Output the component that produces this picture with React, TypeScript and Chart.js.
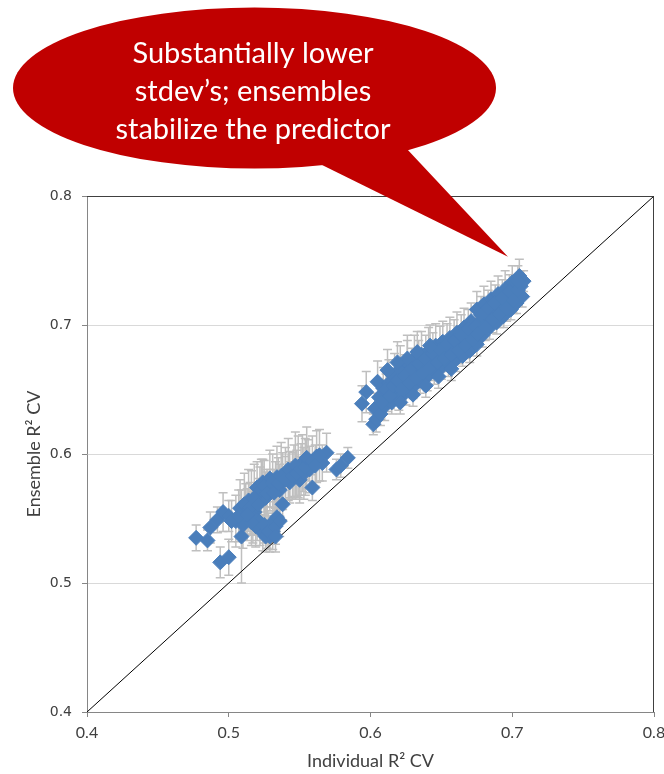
import { useEffect, useRef } from "react";
import { Chart, registerables } from "chart.js";

Chart.register(...registerables);

// Individual-model R² (cross-validated) for each run
const individualR2 = [
  // lower group
  0.477, 0.485, 0.487, 0.492, 0.496, 0.500, 0.509, 0.494, 0.500, 0.505,
  0.510, 0.508, 0.514, 0.512, 0.516, 0.518, 0.520, 0.522, 0.524, 0.526,
  0.529, 0.529, 0.533, 0.534, 0.536, 0.538, 0.540, 0.543, 0.543, 0.546,
  0.549, 0.550, 0.552, 0.553, 0.556, 0.557, 0.562, 0.566, 0.569, 0.517,
  0.520, 0.522, 0.524, 0.527, 0.529, 0.531, 0.531, 0.534, 0.538, 0.559,
  0.576, 0.579, 0.584,
  0.502, 0.507, 0.511, 0.515, 0.518, 0.521, 0.523, 0.525, 0.527, 0.531,
  0.532, 0.535, 0.537, 0.540, 0.542, 0.545, 0.547, 0.548, 0.551, 0.554,
  0.555, 0.559, 0.561, 0.564, 0.519, 0.525, 0.526, 0.528, 0.533, 0.536,
  0.533, 0.516, 0.513,
  // upper group
  0.594, 0.597, 0.602, 0.603, 0.604, 0.605, 0.606, 0.607, 0.609, 0.610,
  0.612, 0.613, 0.615, 0.617, 0.618, 0.620, 0.621, 0.623, 0.625, 0.626,
  0.628, 0.630, 0.631, 0.633, 0.635, 0.636, 0.638, 0.640, 0.641, 0.643,
  0.645, 0.646, 0.648, 0.650, 0.651, 0.653, 0.655, 0.656, 0.658, 0.660,
  0.661, 0.663, 0.665, 0.666, 0.668, 0.670, 0.671, 0.673, 0.675, 0.675,
  0.677, 0.679, 0.680, 0.682, 0.684, 0.685, 0.687, 0.689, 0.690, 0.692,
  0.694, 0.695, 0.697, 0.699, 0.700, 0.702, 0.703, 0.705, 0.706, 0.707,
  0.708,
  0.608, 0.611, 0.614, 0.616, 0.619, 0.622, 0.624, 0.627, 0.629, 0.632,
  0.634, 0.637, 0.639, 0.642, 0.644, 0.647, 0.649, 0.652, 0.654, 0.657,
  0.659, 0.662, 0.664, 0.667, 0.669, 0.672, 0.674, 0.676, 0.678, 0.681,
  0.683, 0.686, 0.688, 0.691, 0.693, 0.696, 0.698, 0.701, 0.704, 0.704,
  0.612, 0.619, 0.626, 0.633, 0.642, 0.621, 0.630, 0.639, 0.648, 0.657,
];

// Ensemble R² (cross-validated) for the same runs
const ensembleR2 = [
  // lower group
  0.535, 0.533, 0.543, 0.549, 0.555, 0.552, 0.536, 0.516, 0.520, 0.548,
  0.545, 0.558, 0.564, 0.557, 0.562, 0.555, 0.574, 0.568, 0.578, 0.566,
  0.581, 0.572, 0.576, 0.582, 0.572, 0.579, 0.585, 0.584, 0.578, 0.587,
  0.590, 0.580, 0.593, 0.585, 0.595, 0.588, 0.598, 0.593, 0.601, 0.551,
  0.549, 0.547, 0.539, 0.543, 0.536, 0.540, 0.547, 0.551, 0.561, 0.574,
  0.588, 0.591, 0.597,
  0.548, 0.552, 0.561, 0.558, 0.566, 0.561, 0.572, 0.575, 0.570, 0.578,
  0.570, 0.577, 0.583, 0.580, 0.588, 0.583, 0.591, 0.585, 0.588, 0.590,
  0.597, 0.594, 0.591, 0.599, 0.544, 0.545, 0.536, 0.540, 0.544, 0.548,
  0.536, 0.547, 0.553,
  // upper group
  0.639, 0.648, 0.623, 0.635, 0.627, 0.656, 0.644, 0.631, 0.651, 0.637,
  0.645, 0.655, 0.640, 0.660, 0.648, 0.643, 0.666, 0.655, 0.648, 0.670,
  0.660, 0.652, 0.674, 0.665, 0.657, 0.677, 0.669, 0.660, 0.680, 0.672,
  0.664, 0.684, 0.676, 0.667, 0.687, 0.679, 0.670, 0.690, 0.682, 0.673,
  0.694, 0.686, 0.676, 0.698, 0.689, 0.680, 0.703, 0.694, 0.685, 0.712,
  0.702, 0.692, 0.716, 0.707, 0.698, 0.720, 0.711, 0.702, 0.724, 0.715,
  0.707, 0.728, 0.720, 0.712, 0.733, 0.725, 0.717, 0.738, 0.730, 0.722,
  0.734,
  0.640, 0.650, 0.645, 0.653, 0.657, 0.650, 0.661, 0.655, 0.666, 0.659,
  0.670, 0.663, 0.674, 0.667, 0.678, 0.671, 0.681, 0.674, 0.685, 0.677,
  0.688, 0.680, 0.692, 0.684, 0.697, 0.689, 0.699, 0.693, 0.708, 0.698,
  0.713, 0.704, 0.717, 0.708, 0.721, 0.713, 0.726, 0.719, 0.727, 0.734,
  0.665, 0.671, 0.674, 0.679, 0.684, 0.640, 0.646, 0.653, 0.660, 0.666,
];

// Standard deviation of the ensemble R² across repeats (error bar half-length)
const ensembleSd = [
  // lower group
  0.010, 0.008, 0.012, 0.010, 0.015, 0.012, 0.036, 0.012, 0.014, 0.020,
  0.018, 0.022, 0.024, 0.020, 0.025, 0.018, 0.020, 0.022, 0.018, 0.020,
  0.022, 0.016, 0.018, 0.024, 0.020, 0.022, 0.020, 0.018, 0.016, 0.020,
  0.024, 0.018, 0.022, 0.020, 0.016, 0.018, 0.020, 0.014, 0.015, 0.020,
  0.016, 0.018, 0.014, 0.016, 0.012, 0.014, 0.016, 0.014, 0.012, 0.010,
  0.008, 0.009, 0.008,
  0.016, 0.020, 0.024, 0.020, 0.026, 0.020, 0.024, 0.020, 0.018, 0.022,
  0.018, 0.020, 0.026, 0.018, 0.024, 0.018, 0.026, 0.018, 0.020, 0.022,
  0.024, 0.020, 0.016, 0.020, 0.016, 0.014, 0.012, 0.014, 0.014, 0.012,
  0.012, 0.018, 0.020,
  // upper group
  0.014, 0.016, 0.008, 0.012, 0.010, 0.016, 0.014, 0.009, 0.016, 0.011,
  0.012, 0.018, 0.009, 0.018, 0.010, 0.009, 0.018, 0.011, 0.010, 0.018,
  0.010, 0.009, 0.018, 0.011, 0.010, 0.018, 0.010, 0.011, 0.018, 0.011,
  0.010, 0.017, 0.010, 0.009, 0.016, 0.011, 0.010, 0.016, 0.010, 0.009,
  0.016, 0.011, 0.008, 0.015, 0.010, 0.009, 0.014, 0.010, 0.009, 0.014,
  0.010, 0.009, 0.014, 0.010, 0.009, 0.014, 0.010, 0.009, 0.014, 0.010,
  0.009, 0.014, 0.010, 0.008, 0.013, 0.010, 0.008, 0.013, 0.009, 0.008,
  0.008,
  0.010, 0.012, 0.010, 0.012, 0.014, 0.010, 0.016, 0.010, 0.016, 0.010,
  0.018, 0.010, 0.018, 0.010, 0.016, 0.010, 0.018, 0.010, 0.016, 0.010,
  0.016, 0.010, 0.016, 0.010, 0.015, 0.010, 0.014, 0.010, 0.014, 0.010,
  0.014, 0.010, 0.014, 0.010, 0.014, 0.010, 0.013, 0.010, 0.012, 0.012,
  0.016, 0.016, 0.018, 0.016, 0.016, 0.009, 0.009, 0.009, 0.009, 0.009,
];

// y = x reference line
const identityLine = [0.4, 0.8];

const axisMin = 0.4;
const axisMax = 0.8;
const axisStep = 0.1;

const xTitle = "Individual R\u00B2 CV";
const yTitle = "Ensemble R\u00B2 CV";

const calloutLines = [
  "Substantially lower",
  "stdev\u2019s; ensembles",
  "stabilize the predictor",
];
// data point the callout's pointer aims at
const calloutTarget = { x: 0.697, y: 0.753 };

const BLUE = "#4a7ebb";
const ERR_GRAY = "#bfbfbf";
const CALLOUT_RED = "#c00000";

const errorBarPlugin = {
  id: "errorBars",
  beforeDatasetsDraw(chart: any) {
    const { ctx, scales } = chart;
    const xs = scales.x;
    const ys = scales.y;
    ctx.save();
    ctx.strokeStyle = ERR_GRAY;
    ctx.lineWidth = 1.5;
    const cap = 4.5;
    for (let i = 0; i < individualR2.length; i++) {
      const px = xs.getPixelForValue(individualR2[i]);
      const top = ys.getPixelForValue(ensembleR2[i] + ensembleSd[i]);
      const bot = ys.getPixelForValue(ensembleR2[i] - ensembleSd[i]);
      ctx.beginPath();
      ctx.moveTo(px, top);
      ctx.lineTo(px, bot);
      ctx.moveTo(px - cap, top);
      ctx.lineTo(px + cap, top);
      ctx.moveTo(px - cap, bot);
      ctx.lineTo(px + cap, bot);
      ctx.stroke();
    }
    ctx.restore();
  },
};

const frameAndCalloutPlugin = {
  id: "frameAndCallout",
  afterDraw(chart: any) {
    const { ctx, chartArea, scales } = chart;
    ctx.save();
    // dark top and right edges of the plot frame
    ctx.strokeStyle = "#404040";
    ctx.lineWidth = 1;
    ctx.beginPath();
    ctx.moveTo(chartArea.left, chartArea.top + 0.5);
    ctx.lineTo(chartArea.right - 0.5, chartArea.top + 0.5);
    ctx.lineTo(chartArea.right - 0.5, chartArea.bottom);
    ctx.stroke();

    // speech-bubble callout
    const cx = 254.5;
    const cy = 88;
    const rx = 241.5;
    const ry = 80.5;
    const tipX = scales.x.getPixelForValue(calloutTarget.x);
    const tipY = scales.y.getPixelForValue(calloutTarget.y);
    ctx.fillStyle = CALLOUT_RED;
    ctx.beginPath();
    ctx.ellipse(cx, cy, rx, ry, 0, 0, Math.PI * 2);
    ctx.fill();
    ctx.beginPath();
    ctx.moveTo(318, 163);
    ctx.lineTo(tipX, tipY);
    ctx.lineTo(406, 148);
    ctx.closePath();
    ctx.fill();

    ctx.fillStyle = "#ffffff";
    ctx.font = "29px Lato";
    ctx.textAlign = "center";
    ctx.textBaseline = "alphabetic";
    const baselines = [63, 101, 139];
    calloutLines.forEach((line, i) => ctx.fillText(line, 253, baselines[i]));
    ctx.restore();
  },
};

export default function App() {
  const canvasRef = useRef<HTMLCanvasElement | null>(null);

  useEffect(() => {
    if (!canvasRef.current) return;
    const points = individualR2.map((x, i) => ({ x, y: ensembleR2[i] }));
    const identity = identityLine.map((v) => ({ x: v, y: v }));

    const chart = new Chart(canvasRef.current, {
      type: "scatter",
      data: {
        datasets: [
          {
            label: "Ensemble vs individual",
            data: points,
            pointStyle: "rectRot",
            pointRadius: 7.5,
            pointBackgroundColor: BLUE,
            pointBorderColor: BLUE,
            pointBorderWidth: 1,
            showLine: false,
          },
          {
            label: "y = x",
            data: identity,
            showLine: true,
            borderColor: "#000000",
            borderWidth: 1,
            pointRadius: 0,
          },
        ],
      },
      options: {
        responsive: false,
        animation: false,
        layout: { padding: { top: 196, right: 10, left: 0, bottom: 0 } },
        plugins: {
          legend: { display: false },
          tooltip: { enabled: false },
        },
        scales: {
          x: {
            type: "linear",
            min: axisMin,
            max: axisMax,
            afterFit(axis: any) {
              axis.height = 62;
              axis.paddingLeft = 0;
              axis.paddingRight = 0;
            },
            afterBuildTicks(axis: any) {
              const t = [];
              for (let v = axisMin; v <= axisMax + 1e-9; v += axisStep) t.push({ value: +v.toFixed(1) });
              axis.ticks = t;
            },
            ticks: {
              color: "#404040",
              font: { family: "Lato", size: 16 },
              padding: 6,
              callback: (v: any) => Number(v).toFixed(1),
            },
            grid: {
              drawOnChartArea: false,
              drawTicks: true,
              tickLength: 5,
              color: "#868686",
            },
            border: { color: "#868686", width: 1 },
            title: {
              display: true,
              text: xTitle,
              color: "#404040",
              font: { family: "Lato", size: 18 },
              padding: { top: 4, bottom: 2 },
            },
          },
          y: {
            type: "linear",
            min: axisMin,
            max: axisMax,
            afterFit(axis: any) {
              axis.width = 87;
              axis.paddingTop = 0;
              axis.paddingBottom = 0;
            },
            afterBuildTicks(axis: any) {
              const t = [];
              for (let v = axisMin; v <= axisMax + 1e-9; v += axisStep) t.push({ value: +v.toFixed(1) });
              axis.ticks = t;
            },
            ticks: {
              color: "#404040",
              font: { family: "DejaVu Sans", size: 14 },
              padding: 10,
              callback: (v: any) => Number(v).toFixed(1),
            },
            grid: {
              color: "#d9d9d9",
              tickColor: "#868686",
              tickLength: 5,
            },
            border: { color: "#868686", width: 1 },
            title: {
              display: true,
              text: yTitle,
              color: "#404040",
              font: { family: "Lato", size: 18 },
              padding: { top: 23, bottom: 4 },
            },
          },
        },
      },
      plugins: [errorBarPlugin, frameAndCalloutPlugin],
    });
    return () => chart.destroy();
  }, []);

  return (
    <div style={{ position: "absolute", left: 0, top: 0, width: 664, height: 774, background: "#fff" }}>
      <canvas ref={canvasRef} width={664} height={774} style={{ display: "block" }} />
    </div>
  );
}
